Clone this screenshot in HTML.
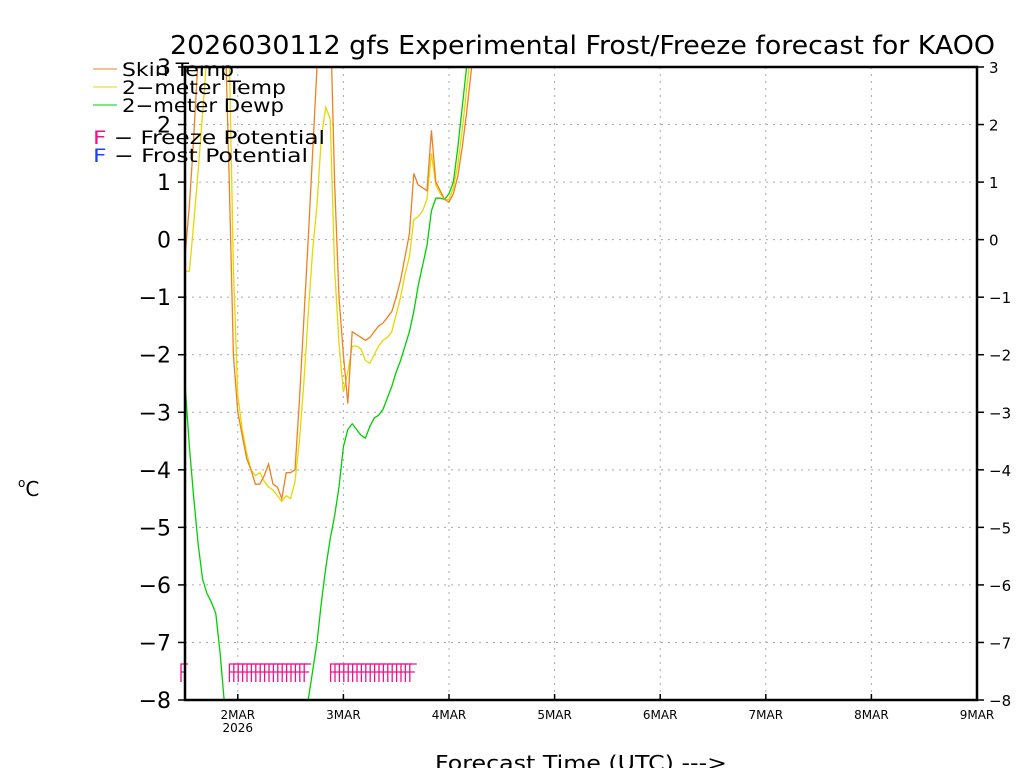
<!DOCTYPE html>
<html><head><meta charset="utf-8"><style>
body{margin:0;background:#fff}
svg{display:block;font-family:"DejaVu Sans","Liberation Sans",sans-serif}
</style></head><body>
<svg id="chart" width="1024" height="768">
<defs><clipPath id="plotclip"><rect x="185" y="67" width="792" height="633"/></clipPath></defs>
<text x="170" y="54" font-size="26" textLength="825" lengthAdjust="spacingAndGlyphs">2026030112 gfs Experimental Frost/Freeze forecast for KAOO</text>
<g id="grid"></g>
<g id="series" clip-path="url(#plotclip)"></g>
<g id="freeze"></g>
<g id="axes"></g>
<g font-size="19">
<line x1="93" y1="69" x2="117" y2="69" stroke="#f08020"/>
<text x="122" y="76" textLength="112" lengthAdjust="spacingAndGlyphs">Skin Temp</text>
<line x1="93" y1="87" x2="117" y2="87" stroke="#e6d800"/>
<text x="122" y="94" textLength="164" lengthAdjust="spacingAndGlyphs">2−meter Temp</text>
<line x1="93" y1="105" x2="117" y2="105" stroke="#00d000"/>
<text x="122" y="112" textLength="162" lengthAdjust="spacingAndGlyphs">2−meter Dewp</text>
<text x="93" y="144" textLength="232" lengthAdjust="spacingAndGlyphs"><tspan fill="#f0108a">F</tspan> − Freeze Potential</text>
<text x="93" y="162" textLength="215" lengthAdjust="spacingAndGlyphs"><tspan fill="#2040ff">F</tspan> − Frost Potential</text>
</g>
<text x="18" y="496" font-size="20"><tspan font-size="12" dy="-9">o</tspan><tspan dy="9">C</tspan></text>
<text x="435" y="770" font-size="20" textLength="292" lengthAdjust="spacingAndGlyphs">Forecast Time (UTC) ---&gt;</text>
</svg>
<script>
const hours=[0,1,2,3,4,5,6,7,8,9,10,11,12,13,14,15,16,17,18,19,20,21,22,23,24,25,26,27,28,29,30,31,32,33,34,35,36,37,38,39,40,41,42,43,44,45,46,47,48,49,50,51,52,53,54,55,56,57,58,59,60,61,62,63,64,65,66];
const skinTemp=[-0.3,0.6,1.8,3.2,4,4.5,4.5,4.5,4.5,4,1.2,-2.0,-3.0,-3.4,-3.8,-4.0,-4.25,-4.25,-4.1,-3.9,-4.25,-4.3,-4.5,-4.05,-4.05,-4.0,-2.8,-1.4,0,1.5,3.0,4,4.5,4,1,-1.0,-2.0,-2.85,-1.6,-1.65,-1.7,-1.75,-1.7,-1.6,-1.5,-1.45,-1.35,-1.25,-1.0,-0.7,-0.3,0.1,1.15,0.95,0.9,0.85,1.9,1.0,0.85,0.7,0.65,0.8,1.1,1.6,2.2,2.9,3.5];
const twoMTemp=[-0.55,-0.55,0.3,1.2,2.2,3.2,4,4,4,4,3.5,-0.5,-2.7,-3.3,-3.7,-4.0,-4.1,-4.05,-4.2,-4.3,-4.35,-4.45,-4.55,-4.45,-4.5,-4.2,-3.5,-2.5,-1.3,-0.2,0.6,1.8,2.3,2.1,-0.5,-1.8,-2.65,-2.3,-1.85,-1.85,-1.9,-2.1,-2.15,-2.0,-1.85,-1.75,-1.7,-1.6,-1.3,-1.0,-0.6,-0.3,0.35,0.4,0.5,0.7,1.5,0.95,0.8,0.7,0.7,0.9,1.3,1.9,2.6,3.3,4];
const dewPoint=[-2.5,-3.6,-4.5,-5.3,-5.9,-6.15,-6.3,-6.5,-7.2,-8.1,-8.5,-8.5,-8.5,-8.5,-8.5,-8.5,-8.5,-8.5,-8.5,-8.5,-8.5,-8.5,-8.5,-8.5,-8.5,-8.5,-8.5,-8.5,-8.0,-7.5,-7.0,-6.3,-5.7,-5.2,-4.8,-4.3,-3.6,-3.3,-3.2,-3.3,-3.4,-3.45,-3.25,-3.1,-3.05,-2.95,-2.75,-2.55,-2.3,-2.1,-1.85,-1.6,-1.25,-0.8,-0.45,-0.1,0.5,0.72,0.72,0.7,0.8,1.0,1.6,2.3,3.0,3.5,4.0];
const freezeHours=[0,11,12,13,14,15,16,17,18,19,20,21,22,23,24,25,26,27,28,34,35,36,37,38,39,40,41,42,43,44,45,46,47,48,49,50,51,52];
const yTicks=[-8,-7,-6,-5,-4,-3,-2,-1,0,1,2,3];
const dayLabels=["2MAR","3MAR","4MAR","5MAR","6MAR","7MAR","8MAR","9MAR"];
const dayHours=[12,36,60,84,108,132,156,180];

const NS="http://www.w3.org/2000/svg";
const X0=185,X1=977,Y0=67,Y1=700,HMAX=180,VMIN=-8,VMAX=3;
const xs=h=>X0+h*(X1-X0)/HMAX;
const ys=v=>Y1-(v-VMIN)*(Y1-Y0)/(VMAX-VMIN);
function mk(tag,attrs,parent){const e=document.createElementNS(NS,tag);for(const k in attrs)e.setAttribute(k,attrs[k]);parent.appendChild(e);return e;}
const grid=document.getElementById('grid'),axes=document.getElementById('axes'),series=document.getElementById('series'),fr=document.getElementById('freeze');
yTicks.forEach(v=>{
  const g=mk('line',{x1:X0,x2:X1,y1:ys(v),y2:ys(v),stroke:'#aaa','stroke-dasharray':'2,5'},grid);
  
  
  const t=mk('text',{x:X0-14,y:ys(v)+8,'text-anchor':'end','font-size':'22'},axes);
  t.textContent=v<0?'−'+(-v):String(v);
  
  
  const t2=mk('text',{x:X1+12,y:ys(v)+6,'font-size':'15'},axes);
  t2.textContent=v<0?'−'+(-v):String(v);
  
  
  const k=mk('line',{x1:X0-7,x2:X0,y1:ys(v),y2:ys(v),stroke:'#000','stroke-width':1.5},axes);
  
  
  const k2=mk('line',{x1:X1,x2:X1+7,y1:ys(v),y2:ys(v),stroke:'#000','stroke-width':1.5},axes);
  
  
});
dayHours.forEach((h,i)=>{
  const g=mk('line',{x1:xs(h),x2:xs(h),y1:Y0,y2:Y1,stroke:'#aaa','stroke-dasharray':'2,5'},grid);
  
  
  const k=mk('line',{x1:xs(h),x2:xs(h),y1:Y1-6,y2:Y1,stroke:'#000','stroke-width':1.5},axes);
  
  
  const t=mk('text',{x:xs(h),y:Y1+19,'text-anchor':'middle','font-size':'12'},axes);
  t.textContent=dayLabels[i];
  
  
});
const yr=mk('text',{x:xs(12),y:Y1+32,'text-anchor':'middle','font-size':'12'},axes);
yr.textContent='2026';


const fr1=mk('rect',{x:X0,y:Y0,width:X1-X0,height:Y1-Y0,fill:'none',stroke:'#000','stroke-width':2.5},axes);


function line(vals,color,name){
  const p=mk('polyline',{points:hours.map((h,i)=>xs(h)+','+ys(vals[i])).join(' '),fill:'none',stroke:color,'stroke-width':1.3},series);
  
  
}
line(dewPoint,'#00d000','dewpoint-line');
line(twoMTemp,'#e6d800','2m-temp-line');
line(skinTemp,'#f08020','skin-temp-line');
freezeHours.forEach(h=>{
  const x=xs(h)-4;
  const p=mk('path',{d:`M${x} 682V664H${x+7}M${x} 672H${x+5}`,fill:'none',stroke:'#f0108a','stroke-width':1.3},fr);
  
  
});
</script>
</body></html>
